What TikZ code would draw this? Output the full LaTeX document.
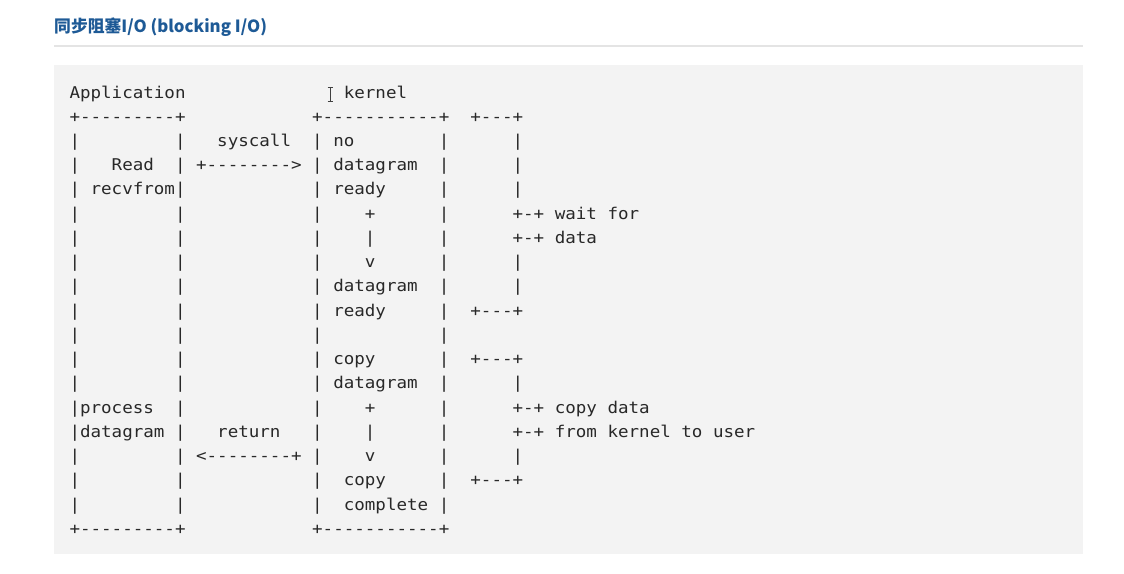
\documentclass[tikz,border=0pt]{standalone}
\usepackage{fontspec}
\setmonofont[FakeStretch=1.082]{DejaVu Sans Mono}
\newfontfamily\cjk{Noto Sans CJK SC}
\definecolor{titleblue}{RGB}{30,90,150}
\definecolor{codebg}{RGB}{243,243,243}
\definecolor{rulegray}{RGB}{228,228,228}
\definecolor{codetext}{RGB}{40,40,40}
\newcommand\xo{69.5}
\newcommand\yo{98}
\newcommand\cw{10.55}
\newcommand\rh{24.24}
\newcommand\seg[3]{\node[mono] (r#2c#1) at ({\xo+#1*\cw},{\yo+#2*\rh}) {#3};}
\begin{document}
\begin{tikzpicture}[x=1pt,y=-1pt,
  mono/.style={anchor=base west,inner sep=0pt,outer sep=0pt,text=codetext,
    font=\ttfamily\fontsize{16.2}{20}\selectfont},
  titletext/.style={anchor=base west,inner sep=0pt,text=titleblue,
    font=\cjk\bfseries\fontsize{16.8}{20}\selectfont}]
\useasboundingbox (0,0) rectangle (1124,573);
\fill[white] (0,0) rectangle (1124,573);
% title and rule
\node[titletext] (title) at (54,32) {同步阻塞I/O (blocking I/O)};
\draw[rulegray,line width=1.5pt] (54,46) coordinate (ruleL) -- (1083,46) coordinate (ruleR);
% code background
\fill[codebg] (54,65) rectangle (1083,554);
% mouse cursor (I-beam)
\draw[black!75,line width=0.9pt] (327.5,87) -- (332.5,87) (330,87) -- (330,101.5) (327.5,101.5) -- (332.5,101.5);
% row 0
\seg{0}{0}{Application}
\seg{26}{0}{kernel}
% row 1
\seg{0}{1}{+---------+}
\seg{23}{1}{+-----------+}
\seg{38}{1}{+---+}
% row 2
\seg{0}{2}{|}\seg{10}{2}{|}\seg{14}{2}{syscall}\seg{23}{2}{|}\seg{25}{2}{no}\seg{35}{2}{|}\seg{42}{2}{|}
% row 3
\seg{0}{3}{|}\seg{4}{3}{Read}\seg{10}{3}{|}\seg{12}{3}{+-------->}\seg{23}{3}{|}\seg{25}{3}{datagram}\seg{35}{3}{|}\seg{42}{3}{|}
% row 4
\seg{0}{4}{|}\seg{2}{4}{recvfrom|}\seg{23}{4}{|}\seg{25}{4}{ready}\seg{35}{4}{|}\seg{42}{4}{|}
% row 5
\seg{0}{5}{|}\seg{10}{5}{|}\seg{23}{5}{|}\seg{28}{5}{+}\seg{35}{5}{|}\seg{42}{5}{+-+}\seg{46}{5}{wait}\seg{51}{5}{for}
% row 6
\seg{0}{6}{|}\seg{10}{6}{|}\seg{23}{6}{|}\seg{28}{6}{|}\seg{35}{6}{|}\seg{42}{6}{+-+}\seg{46}{6}{data}
% row 7
\seg{0}{7}{|}\seg{10}{7}{|}\seg{23}{7}{|}\seg{28}{7}{v}\seg{35}{7}{|}\seg{42}{7}{|}
% row 8
\seg{0}{8}{|}\seg{10}{8}{|}\seg{23}{8}{|}\seg{25}{8}{datagram}\seg{35}{8}{|}\seg{42}{8}{|}
% row 9
\seg{0}{9}{|}\seg{10}{9}{|}\seg{23}{9}{|}\seg{25}{9}{ready}\seg{35}{9}{|}\seg{38}{9}{+---+}
% row 10
\seg{0}{10}{|}\seg{10}{10}{|}\seg{23}{10}{|}\seg{35}{10}{|}
% row 11
\seg{0}{11}{|}\seg{10}{11}{|}\seg{23}{11}{|}\seg{25}{11}{copy}\seg{35}{11}{|}\seg{38}{11}{+---+}
% row 12
\seg{0}{12}{|}\seg{10}{12}{|}\seg{23}{12}{|}\seg{25}{12}{datagram}\seg{35}{12}{|}\seg{42}{12}{|}
% row 13
\seg{0}{13}{|process}\seg{10}{13}{|}\seg{23}{13}{|}\seg{28}{13}{+}\seg{35}{13}{|}\seg{42}{13}{+-+}\seg{46}{13}{copy}\seg{51}{13}{data}
% row 14
\seg{0}{14}{|datagram}\seg{10}{14}{|}\seg{14}{14}{return}\seg{23}{14}{|}\seg{28}{14}{|}\seg{35}{14}{|}\seg{42}{14}{+-+}\seg{46}{14}{from}\seg{51}{14}{kernel}\seg{58}{14}{to}\seg{61}{14}{user}
% row 15
\seg{0}{15}{|}\seg{10}{15}{|}\seg{12}{15}{<--------+}\seg{23}{15}{|}\seg{28}{15}{v}\seg{35}{15}{|}\seg{42}{15}{|}
% row 16
\seg{0}{16}{|}\seg{10}{16}{|}\seg{23}{16}{|}\seg{26}{16}{copy}\seg{35}{16}{|}\seg{38}{16}{+---+}
% row 17
\seg{0}{17}{|}\seg{10}{17}{|}\seg{23}{17}{|}\seg{26}{17}{complete}\seg{35}{17}{|}
% row 18
\seg{0}{18}{+---------+}
\seg{23}{18}{+-----------+}
\end{tikzpicture}
\end{document}
